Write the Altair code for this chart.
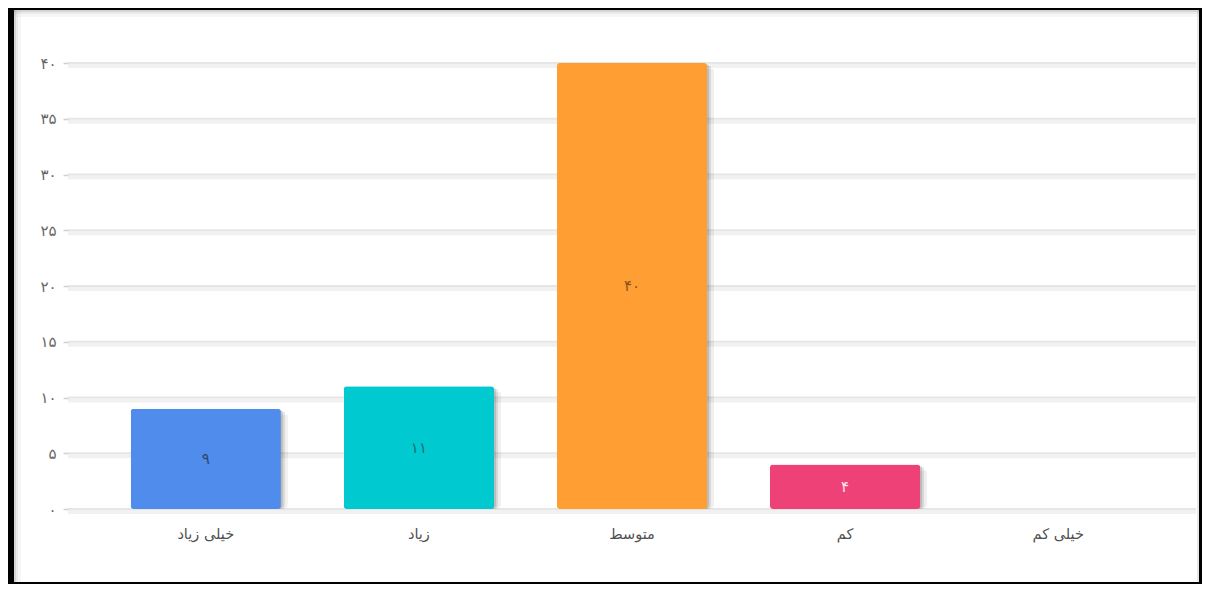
import altair as alt
import pandas as pd

categories = ["خیلی زیاد", "زیاد", "متوسط", "کم", "خیلی کم"]
values = [9, 11, 40, 4, 0]
value_labels = ["۹", "۱۱", "۴۰", "۴", "۰"]
bar_colors = ["#4f8ceb", "#00c9d0", "#ff9f33", "#ee4178", "#9e9e9e"]
label_colors = ["#2f4670", "#1f6e72", "#8a5418", "#fde3ec", "#444444"]
y_tick_values = [0, 5, 10, 15, 20, 25, 30, 35, 40]
y_tick_labels = ["۰", "۵", "۱۰", "۱۵", "۲۰", "۲۵", "۳۰", "۳۵", "۴۰"]

W, H = 1128, 446
FONT = "DejaVu Sans"

df = pd.DataFrame({
    "cat": categories,
    "value": values,
    "label": value_labels,
    "bcolor": bar_colors,
    "tcolor": label_colors,
})
df["mid"] = df["value"] / 2
bars_df = df[df["value"] > 0]
ticks_df = pd.DataFrame({"value": y_tick_values, "tl": y_tick_labels})
one = pd.DataFrame({"k": [0]})

label_expr = ("[" + ",".join(f"'{l}'" for l in y_tick_labels) + "][indexof(["
              + ",".join(str(v) for v in y_tick_values) + "], datum.value)]")

yscale = alt.Scale(domain=[0, 40], nice=False, zero=True)
yaxis = alt.Axis(values=y_tick_values, labelExpr=label_expr, tickSize=5,
                 tickColor="#d0d0d0", tickWidth=1.5, domain=False, grid=False,
                 labelPadding=7, labelFontSize=15, labelColor="#666666",
                 labelFont=FONT, title=None, zindex=1)
xscale = alt.Scale(domain=categories, paddingInner=0.295, paddingOuter=0.294)
xaxis = alt.Axis(title=None, labelAngle=0, domain=False, ticks=False,
                 labelPadding=18, labelFontSize=14.5, labelColor="#505050",
                 labelFont=FONT, zindex=1)


def X():
    return alt.X("cat:N", sort=categories, scale=xscale, axis=xaxis)


def Y(field="value"):
    return alt.Y(f"{field}:Q", scale=yscale, axis=yaxis)


def rect(x, x2, y, y2, color, opacity=1.0):
    return alt.Chart(one).mark_rect(color=color, opacity=opacity).encode(
        x=alt.value(x), x2=alt.value(x2), y=alt.value(y), y2=alt.value(y2))


# frame (page decoration)
frame = [
    rect(-60, 1134, -55, -53, "black"),
    rect(-60, -54, -55, 521, "black"),
    rect(1131, 1134, -55, 521, "black"),
    rect(-60, 1134, 519, 521, "black"),
    # inset shadows
    rect(-54, 1131, -53, -51, "#888888", 0.35),
    rect(-54, 1131, -51, -49, "#888888", 0.18),
    rect(-54, 1131, -49, -46, "#888888", 0.07),
    rect(-54, -52, -53, 519, "#888888", 0.35),
    rect(-52, -50, -53, 519, "#888888", 0.18),
    rect(-50, -47, -53, 519, "#888888", 0.07),
    rect(1129, 1131, -53, 519, "#888888", 0.2),
]

grid_shadow = alt.Chart(ticks_df).mark_rule(color="#f1f1f1", strokeWidth=4, yOffset=3).encode(
    y=Y(), x=alt.value(0), x2=alt.value(W))
grid = alt.Chart(ticks_df).mark_rule(color="#e6e6e6", strokeWidth=2).encode(
    y=Y(), x=alt.value(0), x2=alt.value(W))

bar_shadow1 = alt.Chart(bars_df).mark_bar(color="#000000", opacity=0.06, xOffset=7,
                                          yOffset=6, cornerRadius=5).encode(x=X(), y=Y())
bar_shadow2 = alt.Chart(bars_df).mark_bar(color="#000000", opacity=0.1, xOffset=4,
                                          yOffset=3, cornerRadius=4).encode(x=X(), y=Y())
bar_shadow3 = alt.Chart(bars_df).mark_bar(color="#000000", opacity=0.12, xOffset=2,
                                          yOffset=1.5, cornerRadius=4).encode(x=X(), y=Y())
bars = alt.Chart(bars_df).mark_bar(cornerRadius=3).encode(
    x=X(), y=Y(), color=alt.Color("bcolor:N", scale=None))

text = alt.Chart(bars_df).mark_text(
    align="center", baseline="middle", fontSize=15, font=FONT).encode(
    x=X(), y=Y("mid"), text="label:N", color=alt.Color("tcolor:N", scale=None))

chart = alt.layer(
    *frame, grid_shadow, grid, bar_shadow1, bar_shadow2, bar_shadow3, bars, text
).properties(
    width=W, height=H,
    padding={"left": 60, "top": 55, "right": 6, "bottom": 75},
    autosize=alt.AutoSizeParams(type="none"),
    background="white",
).configure_view(stroke=None)

chart.save("out.html", embed_options={"renderer": "svg", "actions": False})
